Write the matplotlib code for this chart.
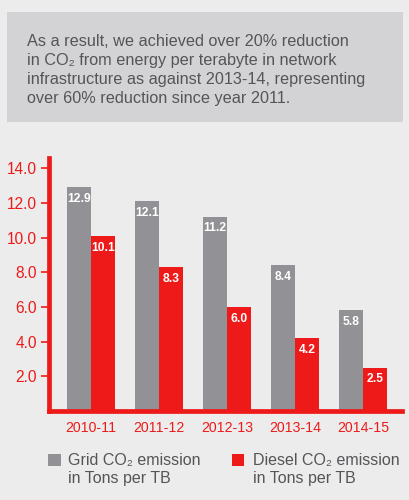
import matplotlib
matplotlib.use("Agg")
import matplotlib.pyplot as plt
from matplotlib.patches import Rectangle
import numpy as np

categories = ["2010-11", "2011-12", "2012-13", "2013-14", "2014-15"]
grid_values = [12.9, 12.1, 11.2, 8.4, 5.8]
diesel_values = [10.1, 8.3, 6.0, 4.2, 2.5]
y_ticks = [2.0, 4.0, 6.0, 8.0, 10.0, 12.0, 14.0]
legend_labels = ["Grid CO\u2082 emission\nin Tons per TB", "Diesel CO\u2082 emission\nin Tons per TB"]
box_lines = [
    "As a result, we achieved over 20% reduction",
    "in CO\u2082 from energy per terabyte in network",
    "infrastructure as against 2013-14, representing",
    "over 60% reduction since year 2011.",
]

RED = "#ee1a1a"
GREY = "#929296"
BG = "#ececec"
TXT = "#555558"
FAM = ["Liberation Sans", "DejaVu Sans"]

W, H = 410, 500
fig = plt.figure(figsize=(W / 100, H / 100), dpi=100, facecolor=BG)

# text box
fig.patches.append(Rectangle((7 / W, (H - 122) / H), 396 / W, 110 / H,
                             transform=fig.transFigure, facecolor="#d3d3d5",
                             edgecolor="none", zorder=0))
baselines = [46, 65, 84, 102.5]
for line, b in zip(box_lines, baselines):
    fig.text(27 / W, (H - b) / H, line, fontsize=11.7, color=TXT, family=FAM,
             va="baseline", ha="left")

ax = fig.add_axes([49 / W, 89 / H, 353 / W, 253 / H])
ax.set_facecolor("none")
x = np.arange(len(categories))
bw = 0.353
b1 = ax.bar(x - bw / 2, grid_values, width=bw, color=GREY, zorder=2)
b2 = ax.bar(x + bw / 2, diesel_values, width=bw, color=RED, zorder=2)
for bars, vals in ((b1, grid_values), (b2, diesel_values)):
    for r, v in zip(bars, vals):
        ax.annotate(f"{v:.1f}", (r.get_x() + r.get_width() / 2, v),
                    xytext=(0, -4), textcoords="offset points",
                    ha="center", va="top", color="white", fontsize=8.7,
                    fontweight="bold", family=FAM)

ax.set_xlim(-0.62, 4.57)
ax.set_ylim(0, 14.6)
for s in ("top", "right"):
    ax.spines[s].set_visible(False)
for s in ("left", "bottom"):
    ax.spines[s].set_color(RED)
    ax.spines[s].set_linewidth(3.4)
ax.set_yticks(y_ticks)
ax.set_yticklabels([f"{t:.1f}" for t in y_ticks], color=RED, fontsize=11.2, family=FAM)
ax.tick_params(axis="y", colors=RED, length=6, width=1.2, pad=2.5, labelcolor=RED)
ax.set_xticks(x)
ax.set_xticklabels(categories, color=RED, fontsize=10.2, family=FAM)
ax.tick_params(axis="x", length=0, pad=7, labelcolor=RED)

# legend
for (lx, col, tx), lab in zip([(48, GREY, 68), (232, RED, 253)], legend_labels):
    fig.patches.append(Rectangle((lx / W, (H - 466) / H), 12.5 / W, 12.5 / H,
                                 transform=fig.transFigure, facecolor=col,
                                 edgecolor="none"))
    l1, l2 = lab.split("\n")
    fig.text(tx / W, (H - 465) / H, l1, fontsize=11.5, color=TXT, family=FAM,
             va="baseline", ha="left")
    fig.text(tx / W, (H - 483) / H, l2, fontsize=11.5, color=TXT, family=FAM,
             va="baseline", ha="left")

fig.savefig("out.png", dpi=100, facecolor=BG)
